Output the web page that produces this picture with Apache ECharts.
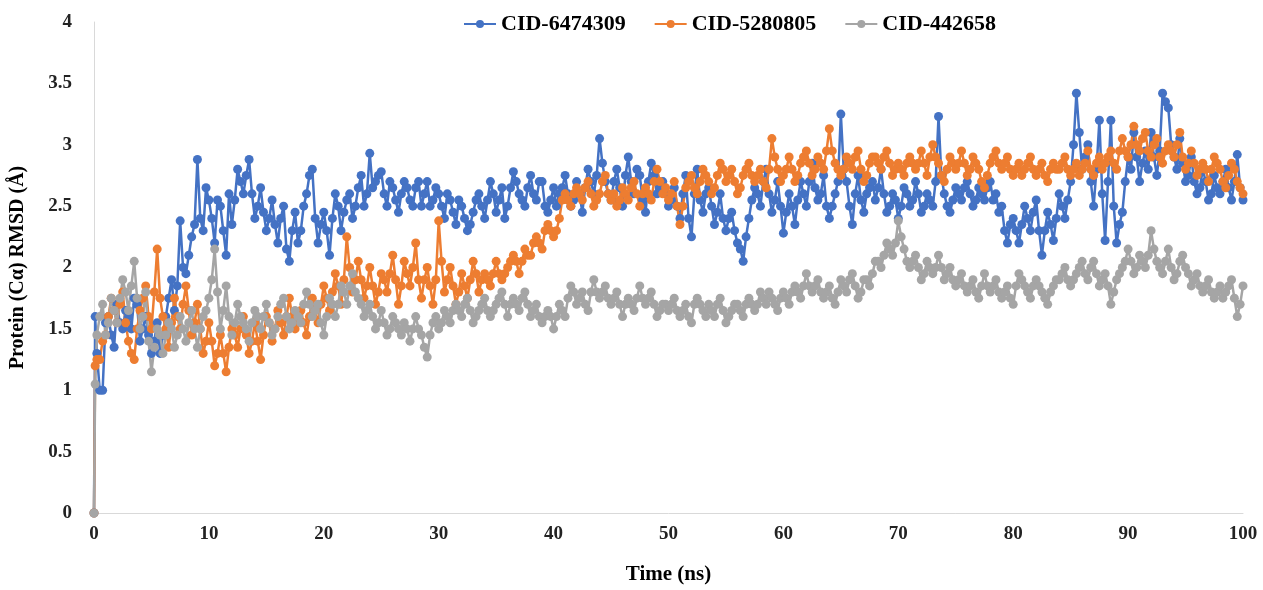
<!DOCTYPE html>
<html>
<head>
<meta charset="utf-8">
<script src="https://cdn.jsdelivr.net/npm/echarts@6/dist/echarts.min.js"></script>
<style>
html,body{margin:0;padding:0;background:#fff;}
#chart{width:1263px;height:590px;}
</style>
</head>
<body>
<div id="chart"></div>
<script>
// sampling times (ns): 0, 0.1, then every 0.25 ns up to 100
const times = [0, 0.1].concat(Array.from({length: 400}, (_, i) => (i + 1) * 0.25));

const seriesNames = ['CID-6474309', 'CID-5280805', 'CID-442658'];

const cid6474309 = [0, 1.6,
  1.3, 1.0, 1.0, 1.55, 1.6, 1.45, 1.35, 1.7, 1.55, 1.5, 1.65, 1.6, 1.5, 1.75, 1.7, 1.4, 1.5, 1.6, 1.45, 1.3,
  1.4, 1.55, 1.3, 1.45, 1.6, 1.75, 1.9, 1.65, 1.85, 2.38, 2.0, 1.95, 2.1, 2.25, 2.35, 2.88, 2.4, 2.3, 2.65, 2.55,
  2.4, 2.2, 2.55, 2.5, 2.3, 2.1, 2.6, 2.35, 2.55, 2.8, 2.7, 2.6, 2.75, 2.88, 2.6, 2.4, 2.5, 2.65, 2.45, 2.3,
  2.4, 2.55, 2.35, 2.2, 2.4, 2.5, 2.15, 2.05, 2.3, 2.45, 2.2, 2.3, 2.5, 2.6, 2.75, 2.8, 2.4, 2.2, 2.35, 2.45,
  2.3, 2.1, 2.4, 2.6, 2.5, 2.3, 2.45, 2.55, 2.6, 2.4, 2.5, 2.65, 2.75, 2.5, 2.6, 2.93, 2.65, 2.7, 2.75, 2.78,
  2.6, 2.5, 2.7, 2.65, 2.55, 2.45, 2.6, 2.7, 2.65, 2.55, 2.5, 2.65, 2.7, 2.5, 2.6, 2.7, 2.5, 2.55, 2.65, 2.6,
  2.5, 2.4, 2.6, 2.55, 2.45, 2.35, 2.55, 2.5, 2.4, 2.3, 2.35, 2.45, 2.55, 2.6, 2.5, 2.4, 2.55, 2.7, 2.6, 2.45,
  2.55, 2.65, 2.4, 2.5, 2.65, 2.78, 2.7, 2.6, 2.55, 2.5, 2.65, 2.75, 2.6, 2.55, 2.7, 2.7, 2.5, 2.45, 2.55, 2.65,
  2.5, 2.6, 2.65, 2.75, 2.6, 2.5, 2.55, 2.7, 2.6, 2.45, 2.65, 2.8, 2.7, 2.6, 2.75, 3.05, 2.85, 2.7, 2.6, 2.55,
  2.7, 2.8, 2.65, 2.5, 2.75, 2.9, 2.7, 2.6, 2.8, 2.75, 2.55, 2.45, 2.7, 2.85, 2.75, 2.6, 2.65, 2.7, 2.6, 2.5,
  2.55, 2.65, 2.5, 2.4, 2.6, 2.75, 2.4, 2.25, 2.6, 2.8, 2.55, 2.45, 2.6, 2.65, 2.5, 2.35, 2.45, 2.6, 2.4, 2.3,
  2.4, 2.45, 2.3, 2.2, 2.15, 2.05, 2.25, 2.4, 2.55, 2.65, 2.6, 2.5, 2.7, 2.8, 2.6, 2.45, 2.55, 2.7, 2.5, 2.28,
  2.45, 2.6, 2.5, 2.35, 2.55, 2.7, 2.6, 2.5, 2.7, 2.85, 2.65, 2.55, 2.6, 2.75, 2.5, 2.4, 2.5, 2.6, 2.7, 3.25,
  2.8, 2.7, 2.5, 2.35, 2.6, 2.75, 2.55, 2.45, 2.6, 2.65, 2.7, 2.55, 2.65, 2.8, 2.6, 2.45, 2.5, 2.6, 2.55, 2.4,
  2.5, 2.65, 2.6, 2.5, 2.55, 2.7, 2.6, 2.45, 2.5, 2.6, 2.55, 2.5, 2.7, 3.23, 2.75, 2.6, 2.5, 2.45, 2.55, 2.65,
  2.6, 2.55, 2.65, 2.7, 2.6, 2.5, 2.55, 2.65, 2.6, 2.55, 2.65, 2.7, 2.55, 2.6, 2.45, 2.5, 2.3, 2.2, 2.35, 2.4,
  2.3, 2.2, 2.35, 2.5, 2.4, 2.3, 2.45, 2.55, 2.3, 2.1, 2.3, 2.45, 2.35, 2.22, 2.4, 2.6, 2.5, 2.4, 2.55, 2.7,
  3.0, 3.42, 3.1, 2.8, 2.9, 3.0, 2.7, 2.5, 2.8, 3.2, 2.6, 2.22, 2.7, 3.2, 2.5, 2.2, 2.35, 2.45, 2.7, 2.9,
  2.8, 3.1, 2.9, 2.7, 2.85, 2.95, 2.8, 3.1, 2.9, 2.75, 2.95, 3.42, 3.35, 3.3, 3.0, 2.9, 2.8, 3.05, 2.85, 2.7,
  2.75, 2.9, 2.7, 2.6, 2.65, 2.8, 2.7, 2.55, 2.6, 2.75, 2.65, 2.6, 2.7, 2.8, 2.65, 2.55, 2.7, 2.92, 2.65, 2.55
];

const cid5280805 = [0, 1.2,
  1.25, 1.25, 1.4, 1.45, 1.6, 1.75, 1.65, 1.55, 1.7, 1.8, 1.55, 1.4, 1.3, 1.25, 1.5, 1.65, 1.75, 1.85, 1.6, 1.5,
  1.8, 2.15, 1.75, 1.6, 1.5, 1.35, 1.55, 1.75, 1.6, 1.5, 1.7, 1.85, 1.65, 1.45, 1.55, 1.7, 1.5, 1.3, 1.4, 1.55,
  1.4, 1.2, 1.3, 1.45, 1.3, 1.15, 1.35, 1.5, 1.45, 1.35, 1.5, 1.6, 1.45, 1.3, 1.4, 1.55, 1.4, 1.25, 1.45, 1.6,
  1.55, 1.4, 1.5, 1.65, 1.55, 1.45, 1.6, 1.75, 1.6, 1.5, 1.55, 1.65, 1.55, 1.45, 1.6, 1.75, 1.65, 1.55, 1.7, 1.85,
  1.75, 1.65, 1.8, 1.95, 1.85, 1.7, 1.9, 2.25, 2.0, 1.8, 1.9, 2.05, 1.9, 1.75, 1.85, 2.0, 1.85, 1.7, 1.8, 1.95,
  1.9, 1.8, 1.95, 2.1, 1.9, 1.7, 1.85, 2.05, 1.95, 1.85, 2.0, 2.2, 1.9, 1.75, 1.9, 2.0, 1.85, 1.7, 1.9, 2.38,
  2.05, 1.8, 1.9, 2.0, 1.85, 1.7, 1.8, 1.95, 1.85, 1.75, 1.9, 2.05, 1.95, 1.8, 1.9, 1.95, 1.9, 1.85, 1.95, 2.05,
  1.95, 1.9, 1.95, 2.0, 2.05, 2.1, 2.05, 1.95, 2.05, 2.15, 2.1, 2.1, 2.2, 2.25, 2.2, 2.15, 2.3, 2.35, 2.3, 2.25,
  2.3, 2.4, 2.55, 2.6, 2.55, 2.5, 2.6, 2.65, 2.6, 2.55, 2.65, 2.7, 2.6, 2.5, 2.55, 2.6, 2.7, 2.75, 2.6, 2.55,
  2.6, 2.5, 2.55, 2.65, 2.6, 2.55, 2.65, 2.7, 2.6, 2.5, 2.6, 2.65, 2.6, 2.55, 2.7, 2.8, 2.7, 2.6, 2.65, 2.55,
  2.6, 2.7, 2.5, 2.35, 2.5, 2.65, 2.7, 2.75, 2.65, 2.6, 2.7, 2.8, 2.75, 2.7, 2.6, 2.65, 2.75, 2.85, 2.8, 2.7,
  2.75, 2.8, 2.7, 2.6, 2.65, 2.75, 2.8, 2.85, 2.75, 2.7, 2.75, 2.8, 2.7, 2.65, 2.8, 3.05, 2.9, 2.8, 2.7, 2.75,
  2.8, 2.9, 2.8, 2.7, 2.75, 2.85, 2.9, 2.95, 2.85, 2.75, 2.8, 2.9, 2.85, 2.8, 2.95, 3.13, 2.95, 2.85, 2.8, 2.75,
  2.8, 2.9, 2.85, 2.8, 2.9, 2.95, 2.8, 2.7, 2.75, 2.85, 2.9, 2.9, 2.85, 2.8, 2.9, 2.95, 2.85, 2.75, 2.8, 2.85,
  2.8, 2.75, 2.85, 2.9, 2.85, 2.8, 2.85, 2.95, 2.85, 2.75, 2.9, 3.0, 2.9, 2.85, 2.75, 2.7, 2.8, 2.9, 2.85, 2.8,
  2.85, 2.95, 2.85, 2.75, 2.8, 2.9, 2.85, 2.8, 2.7, 2.65, 2.75, 2.85, 2.9, 2.95, 2.85, 2.8, 2.85, 2.9, 2.8, 2.75,
  2.8, 2.85, 2.75, 2.8, 2.85, 2.9, 2.8, 2.75, 2.8, 2.85, 2.75, 2.7, 2.8, 2.85, 2.8, 2.8, 2.85, 2.9, 2.8, 2.75,
  2.8, 2.85, 2.75, 2.8, 2.85, 2.95, 2.8, 2.75, 2.85, 2.9, 2.8, 2.85, 2.9, 2.95, 2.85, 2.8, 2.95, 3.05, 2.95, 2.9,
  3.0, 3.15, 3.0, 2.95, 3.05, 3.1, 2.95, 2.9, 3.0, 3.05, 2.9, 2.85, 2.95, 3.0, 2.95, 2.9, 3.0, 3.1, 2.9, 2.8,
  2.85, 2.95, 2.85, 2.75, 2.8, 2.85, 2.8, 2.7, 2.8, 2.9, 2.85, 2.8, 2.7, 2.65, 2.75, 2.85, 2.8, 2.7, 2.65, 2.6
];

const cid442658 = [0, 1.05,
  1.45, 1.6, 1.7, 1.45, 1.55, 1.75, 1.65, 1.55, 1.75, 1.9, 1.8, 1.65, 1.85, 2.05, 1.75, 1.5, 1.6, 1.8, 1.4, 1.15,
  1.35, 1.5, 1.45, 1.3, 1.45, 1.55, 1.5, 1.35, 1.45, 1.6, 1.5, 1.4, 1.55, 1.65, 1.5, 1.35, 1.5, 1.6, 1.65, 1.75,
  1.9, 2.15, 1.8, 1.5, 1.65, 1.85, 1.6, 1.45, 1.55, 1.7, 1.6, 1.55, 1.5, 1.4, 1.55, 1.65, 1.6, 1.5, 1.6, 1.7,
  1.55, 1.45, 1.5, 1.6, 1.7, 1.75, 1.6, 1.5, 1.55, 1.65, 1.6, 1.55, 1.7, 1.8, 1.7, 1.6, 1.65, 1.7, 1.55, 1.45,
  1.6, 1.75, 1.7, 1.6, 1.7, 1.85, 1.8, 1.7, 1.85, 1.95, 1.8, 1.75, 1.7, 1.6, 1.65, 1.7, 1.6, 1.5, 1.55, 1.65,
  1.55, 1.45, 1.5, 1.6, 1.55, 1.5, 1.45, 1.55, 1.5, 1.4, 1.5, 1.6, 1.5, 1.45, 1.35, 1.27, 1.45, 1.55, 1.6, 1.5,
  1.55, 1.65, 1.6, 1.55, 1.65, 1.7, 1.65, 1.6, 1.7, 1.75, 1.65, 1.55, 1.6, 1.65, 1.7, 1.75, 1.65, 1.6, 1.65, 1.7,
  1.75, 1.8, 1.7, 1.6, 1.7, 1.75, 1.7, 1.65, 1.75, 1.8, 1.7, 1.6, 1.65, 1.7, 1.6, 1.55, 1.6, 1.65, 1.6, 1.5,
  1.6, 1.7, 1.65, 1.6, 1.75, 1.85, 1.8, 1.7, 1.75, 1.8, 1.7, 1.65, 1.8, 1.9, 1.8, 1.75, 1.8, 1.85, 1.75, 1.7,
  1.75, 1.8, 1.7, 1.6, 1.7, 1.75, 1.7, 1.65, 1.75, 1.85, 1.75, 1.7, 1.75, 1.8, 1.7, 1.6, 1.65, 1.7, 1.7, 1.65,
  1.7, 1.75, 1.65, 1.6, 1.65, 1.7, 1.6, 1.55, 1.7, 1.75, 1.7, 1.65, 1.6, 1.7, 1.65, 1.6, 1.7, 1.75, 1.65, 1.55,
  1.6, 1.65, 1.7, 1.7, 1.65, 1.6, 1.7, 1.75, 1.7, 1.65, 1.7, 1.8, 1.75, 1.7, 1.8, 1.75, 1.7, 1.65, 1.75, 1.8,
  1.75, 1.7, 1.8, 1.85, 1.8, 1.75, 1.85, 1.95, 1.85, 1.8, 1.85, 1.9, 1.8, 1.75, 1.8, 1.85, 1.75, 1.7, 1.8, 1.9,
  1.85, 1.8, 1.9, 1.95, 1.85, 1.75, 1.8, 1.9, 1.9, 1.85, 1.95, 2.05, 2.05, 2.0, 2.1, 2.2, 2.15, 2.1, 2.2, 2.38,
  2.25, 2.15, 2.05, 2.0, 2.05, 2.1, 2.0, 1.9, 1.95, 2.05, 2.0, 1.95, 2.0, 2.1, 2.0, 1.9, 1.95, 2.0, 1.9, 1.85,
  1.9, 1.95, 1.85, 1.8, 1.85, 1.9, 1.8, 1.75, 1.85, 1.95, 1.85, 1.8, 1.85, 1.9, 1.8, 1.75, 1.8, 1.85, 1.75, 1.7,
  1.85, 1.95, 1.9, 1.85, 1.8, 1.75, 1.85, 1.9, 1.85, 1.8, 1.75, 1.7, 1.8, 1.85, 1.9, 1.9, 1.95, 2.0, 1.9, 1.85,
  1.9, 1.95, 2.0, 2.05, 1.95, 1.9, 2.0, 2.05, 1.95, 1.85, 1.9, 1.95, 1.85, 1.7, 1.8, 1.9, 1.95, 2.0, 2.05, 2.15,
  2.05, 1.95, 2.0, 2.1, 2.05, 2.0, 2.1, 2.3, 2.15, 2.05, 2.0, 1.95, 2.05, 2.15, 2.0, 1.9, 1.95, 2.05, 2.1, 2.0,
  1.95, 1.85, 1.9, 1.95, 1.85, 1.8, 1.85, 1.9, 1.8, 1.75, 1.8, 1.85, 1.75, 1.8, 1.85, 1.9, 1.75, 1.6, 1.7, 1.85
];

const colors = ['#4472C4', '#ED7D31', '#A5A5A5'];
const allValues = [cid6474309, cid5280805, cid442658];

const font = '"Liberation Serif", "Times New Roman", serif';
const chart = echarts.init(document.getElementById('chart'));

chart.setOption({
  animation: false,
  color: colors,
  textStyle: { fontFamily: font },
  legend: {
    top: 8,
    left: 458,
    itemWidth: 32,
    itemHeight: 10,
    itemGap: 28,
    textStyle: { fontFamily: font, fontSize: 22, fontWeight: 'bold', color: '#000' },
    data: seriesNames
  },
  grid: { left: 91, right: 20, top: 22, bottom: 60, containLabel: false },
  xAxis: {
    type: 'value',
    min: 0, max: 100, interval: 10,
    name: 'Time (ns)',
    nameLocation: 'middle',
    nameGap: 51,
    nameTextStyle: { fontFamily: font, fontSize: 21, fontWeight: 'bold', color: '#000' },
    axisLine: { show: true, lineStyle: { color: '#D9D9D9', width: 1 } },
    axisTick: { show: false },
    splitLine: { show: false },
    axisLabel: { fontFamily: font, fontSize: 19, fontWeight: 'bold', color: '#222', margin: 12 }
  },
  yAxis: {
    type: 'value',
    min: 0, max: 4, interval: 0.5,
    name: 'Protein (Cα) RMSD (Å)',
    nameLocation: 'middle',
    nameGap: 66,
    nameTextStyle: { fontFamily: font, fontSize: 20, fontWeight: 'bold', color: '#000' },
    axisLine: { show: true, lineStyle: { color: '#D9D9D9', width: 1 } },
    axisTick: { show: false },
    splitLine: { show: false },
    axisLabel: { fontFamily: font, fontSize: 19, fontWeight: 'bold', color: '#222', margin: 22 }
  },
  series: seriesNames.map((name, k) => ({
    name: name,
    type: 'line',
    data: allValues[k].map((v, i) => [times[i], v]),
    symbol: 'circle',
    symbolSize: 9,
    showAllSymbol: true,
    lineStyle: { width: 2.5, color: colors[k] },
    itemStyle: { color: colors[k] }
  }))
});
</script>
</body>
</html>
